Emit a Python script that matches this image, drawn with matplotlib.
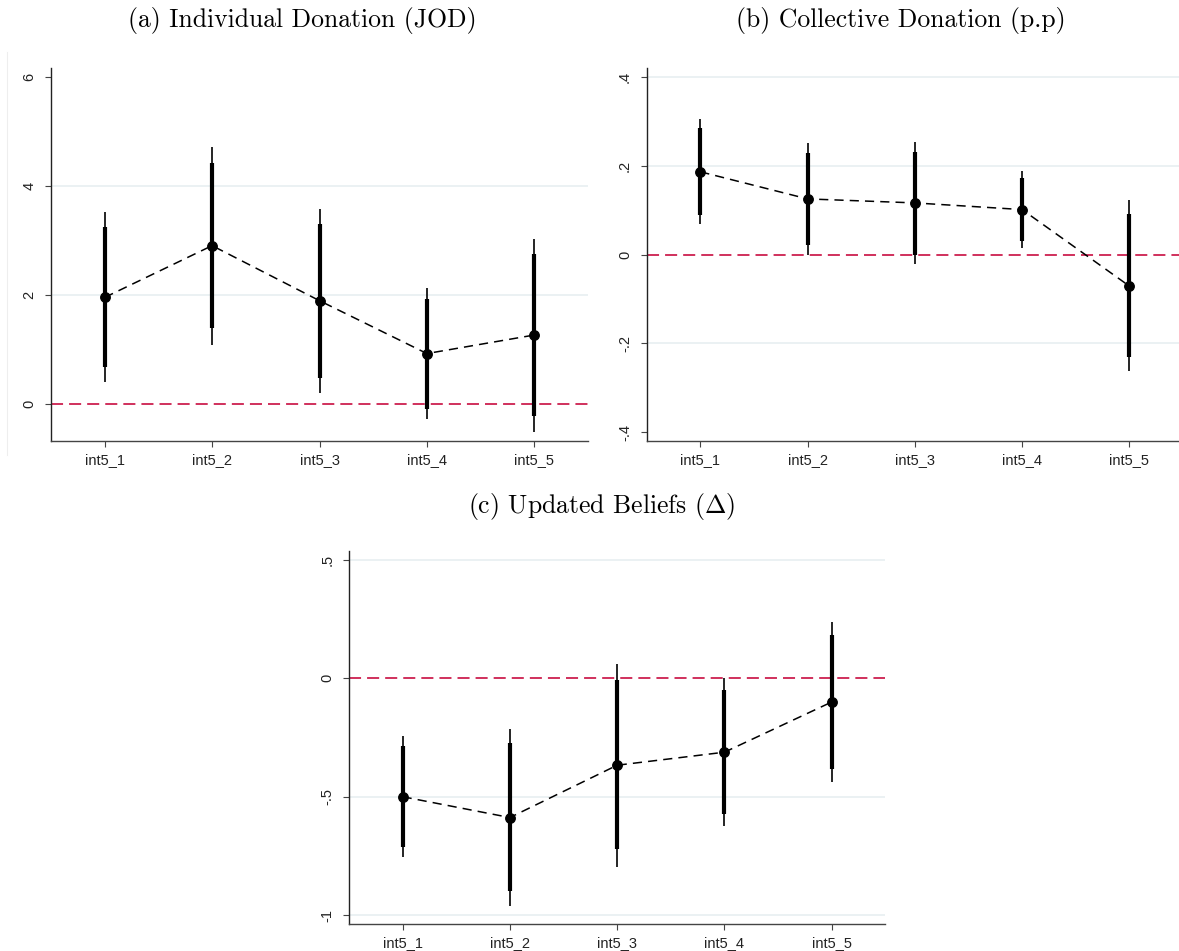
import matplotlib
matplotlib.use("Agg")
import matplotlib.pyplot as plt
from matplotlib.lines import Line2D

# categories
labels = ["int5_1", "int5_2", "int5_3", "int5_4", "int5_5"]

# (a) Individual Donation (JOD)
a_coef = [1.95, 2.90, 1.89, 0.92, 1.26]
a_lo90 = [0.67, 1.39, 0.47, -0.10, -0.23]
a_hi90 = [3.25, 4.41, 3.29, 1.92, 2.74]
a_lo95 = [0.40, 1.08, 0.20, -0.29, -0.52]
a_hi95 = [3.51, 4.71, 3.58, 2.12, 3.03]

# (b) Collective Donation (p.p)
b_coef = [0.186, 0.125, 0.116, 0.101, -0.071]
b_lo90 = [0.089, 0.021, 0.000, 0.030, -0.230]
b_hi90 = [0.284, 0.229, 0.231, 0.173, 0.091]
b_lo95 = [0.068, 0.000, -0.022, 0.015, -0.263]
b_hi95 = [0.304, 0.250, 0.254, 0.188, 0.122]

# (c) Updated Beliefs
c_coef = [-0.500, -0.588, -0.367, -0.312, -0.100]
c_lo90 = [-0.711, -0.899, -0.722, -0.572, -0.382]
c_hi90 = [-0.284, -0.275, -0.008, -0.051, 0.184]
c_lo95 = [-0.754, -0.961, -0.795, -0.624, -0.438]
c_hi95 = [-0.242, -0.213, 0.062, 0.000, 0.240]

a_ticks = [0, 2, 4, 6]
a_ticklabels = ["0", "2", "4", "6"]
b_ticks = [-0.4, -0.2, 0, 0.2, 0.4]
b_ticklabels = ["-.4", "-.2", "0", ".2", ".4"]
c_ticks = [-1, -0.5, 0, 0.5]
c_ticklabels = ["-1", "-.5", "0", ".5"]

W, H = 1179, 951
RED = "#d0305c"
GRID = "#e6eef0"

plt.rcParams["mathtext.fontset"] = "cm"


def px_axes(fig, left, top, right, bottom):
    '''
    [PX_AXES] adds an axes given its pixel box (origin at top-left).
    '''
    return fig.add_axes([left / W, 1 - bottom / H,
                         (right - left) / W, (bottom - top) / H])


def coef_panel(ax, coef, lo90, hi90, lo95, hi95, ylim, ticks, ticklabels,
               grid_ticks):
    '''
    [COEF_PANEL] draws a Stata-like coefficient plot with two CI widths.
    '''
    x = list(range(1, len(labels) + 1))

    for g in grid_ticks:
        ax.axhline(g, color=GRID, lw=1.1, zorder=0)

    zero, = ax.plot([0.5, 5.5], [0, 0], color=RED, lw=1.4, zorder=1)
    zero.set_dashes((6.2, 3.1))

    ax.vlines(x, lo95, hi95, color="black", lw=1.2, zorder=2)
    ax.vlines(x, lo90, hi90, color="black", lw=3.0, zorder=3)

    conn, = ax.plot(x, coef, color="black", lw=1.1, zorder=4)
    conn.set_dashes((6, 4))
    ax.plot(x, coef, "o", color="black", ms=6.8, zorder=5)

    ax.set_xlim(0.5, 5.5)
    ax.set_ylim(*ylim)
    ax.set_xticks(x)
    ax.set_xticklabels(labels, fontsize=10.5, family="Liberation Sans",
                       color="#222222")
    ax.set_yticks(ticks)
    ax.set_yticklabels(ticklabels, fontsize=10.5, family="Liberation Sans",
                       color="#222222", rotation=90, va="center")
    ax.tick_params(axis="both", direction="out", length=4.5, width=0.8,
                   color="#444444", pad=4)
    ax.tick_params(axis="y", pad=6)

    for side in ["top", "right"]:
        ax.spines[side].set_visible(False)
    ax.spines["left"].set_color("#222222")
    ax.spines["bottom"].set_color("#444444")
    ax.spines["left"].set_linewidth(1.0)
    ax.spines["bottom"].set_linewidth(1.0)
    ax.set_facecolor("white")


def main():
    fig = plt.figure(figsize=(W / 100, H / 100), dpi=100)
    fig.patch.set_facecolor("white")

    # faint outline left from the graph region
    fig.add_artist(Line2D([7 / W, 7 / W], [1 - 52 / H, 1 - 455 / H],
                          color="#eeeeee", lw=0.8))

    ax_a = px_axes(fig, 51, 67.7, 588, 441.3)
    coef_panel(ax_a, a_coef, a_lo90, a_hi90, a_lo95, a_hi95,
               (-0.69, 6.165), a_ticks, a_ticklabels, [2, 4])

    ax_b = px_axes(fig, 646.7, 67.7, 1183, 441.3)
    coef_panel(ax_b, b_coef, b_lo90, b_hi90, b_lo95, b_hi95,
               (-0.42, 0.42), b_ticks, b_ticklabels, [-0.2, 0.2, 0.4])

    ax_c = px_axes(fig, 349, 551, 885.3, 924.3)
    coef_panel(ax_c, c_coef, c_lo90, c_hi90, c_lo95, c_hi95,
               (-1.039, 0.538), c_ticks, c_ticklabels, [-1, -0.5, 0.5])

    title_kw = dict(ha="center", va="center", fontsize=18.5, family="cmr10")
    fig.text(302 / W, 1 - 20 / H, "(a) Individual Donation (JOD)", **title_kw)
    fig.text(901 / W, 1 - 20 / H, "(b) Collective Donation (p.p)", **title_kw)
    fig.text(602 / W, 1 - 507 / H, r"(c) Updated Beliefs ($\Delta$)",
             **title_kw)

    fig.savefig("out.png", dpi=100, facecolor="white")
    plt.close("all")


if __name__ == "__main__":
    main()
